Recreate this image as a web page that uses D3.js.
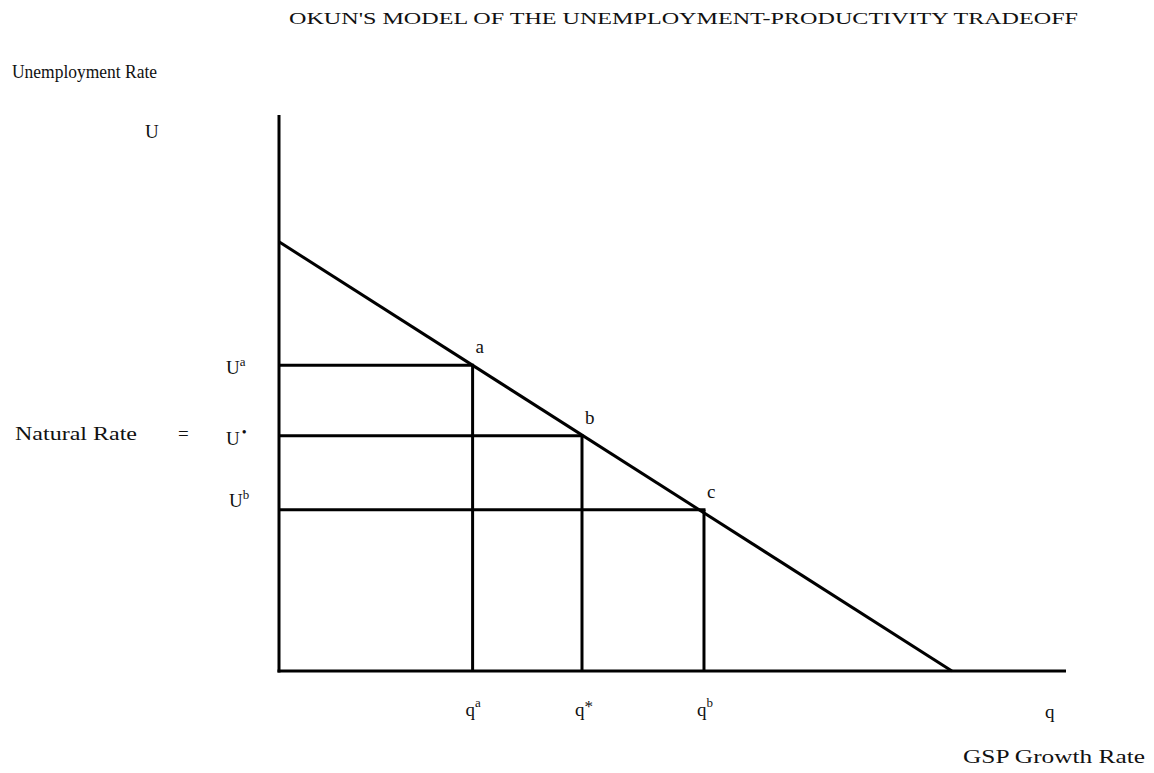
<!DOCTYPE html>
<html>
<head>
<meta charset="utf-8">
<script src="https://cdn.jsdelivr.net/npm/d3@7"></script>
<style>
  body { margin: 0; background: #fff; }
  svg text { font-family: "Liberation Serif", "DejaVu Serif", serif; fill: #111; }
</style>
</head>
<body>
<div id="chart"></div>
<script>
// diagram values (arbitrary units)
const lineStart = { q: 0, u: 77.2 };     // where the Okun line hits the U axis
const lineEnd = { q: 85.5, u: 0 };       // where it hits the q axis
const points = [
  { id: 'a', q: 24.6, u: 55.0, uLabel: 'a', qLabel: 'a' },
  { id: 'b', q: 38.5, u: 42.3, uLabel: '*', qLabel: '*' },
  { id: 'c', q: 54.0, u: 29.0, uLabel: 'b', qLabel: 'b' }
];
const qMax = 100;
const uMax = 100;

// dimensions
const W = 1154, H = 773;
const AX_LEFT = 279, AX_RIGHT = 1066, AX_TOP = 115, AX_BOTTOM = 671;
const FS = 19;

const x = d3.scaleLinear().domain([0, qMax]).range([AX_LEFT, AX_RIGHT]);
const y = d3.scaleLinear().domain([0, uMax]).range([AX_BOTTOM, AX_TOP]);

const $svg = d3.select('#chart').append('svg')
  .attr('width', W)
  .attr('height', H);

// title
$svg.append('text')
  .attr('x', 289).attr('y', 24)
  .attr('font-size', 17)
  .attr('textLength', 789).attr('lengthAdjust', 'spacingAndGlyphs')
  .text("OKUN'S MODEL OF THE UNEMPLOYMENT-PRODUCTIVITY TRADEOFF");

// axis titles
$svg.append('text')
  .attr('x', 12).attr('y', 78)
  .attr('font-size', FS)
  .attr('textLength', 145).attr('lengthAdjust', 'spacingAndGlyphs')
  .text('Unemployment Rate');

$svg.append('text')
  .attr('x', 145).attr('y', 138)
  .attr('font-size', FS)
  .text('U');

$svg.append('text')
  .attr('x', 1045).attr('y', 718)
  .attr('font-size', FS)
  .text('q');

$svg.append('text')
  .attr('x', 963).attr('y', 763)
  .attr('font-size', FS)
  .attr('textLength', 182).attr('lengthAdjust', 'spacingAndGlyphs')
  .text('GSP Growth Rate');

$svg.append('text')
  .attr('x', 15).attr('y', 440)
  .attr('font-size', FS)
  .attr('textLength', 122).attr('lengthAdjust', 'spacingAndGlyphs')
  .text('Natural Rate');

$svg.append('text')
  .attr('x', 178).attr('y', 440)
  .attr('font-size', FS)
  .text('=');

// axes
const $axes = $svg.append('g').attr('class', 'g-axis')
  .attr('stroke', '#000').attr('stroke-width', 3).attr('fill', 'none');

$axes.append('line')
  .attr('x1', x(0)).attr('x2', x(0))
  .attr('y1', y(uMax)).attr('y2', y(0) + 1.5);

$axes.append('line')
  .attr('x1', x(0) - 1.5).attr('x2', x(qMax))
  .attr('y1', y(0)).attr('y2', y(0));

// okun line
const line = d3.line().x(d => x(d.q)).y(d => y(d.u));
$svg.append('path')
  .datum([lineStart, lineEnd])
  .attr('d', line)
  .attr('stroke', '#000').attr('stroke-width', 3).attr('fill', 'none');

// guide lines from points to the axes
const $guides = $svg.append('g').attr('class', 'g-guides')
  .attr('stroke', '#000').attr('stroke-width', 3);

$guides.selectAll('line.h')
  .data(points)
  .join('line')
  .attr('class', 'h')
  .attr('x1', x(0)).attr('x2', d => x(d.q) + 1.5)
  .attr('y1', d => y(d.u)).attr('y2', d => y(d.u));

$guides.selectAll('line.v')
  .data(points)
  .join('line')
  .attr('class', 'v')
  .attr('x1', d => x(d.q)).attr('x2', d => x(d.q))
  .attr('y1', d => y(d.u)).attr('y2', y(0));

// point labels
$svg.selectAll('text.pt')
  .data(points)
  .join('text')
  .attr('class', 'pt')
  .attr('x', d => x(d.q) + 3)
  .attr('y', d => y(d.u) - 12)
  .attr('font-size', FS)
  .text(d => d.id);

// U labels on the vertical axis
const uLab = $svg.selectAll('text.ulab')
  .data(points)
  .join('text')
  .attr('class', 'ulab')
  .attr('x', d => d.id === 'c' ? 229 : 226)
  .attr('y', d => y(d.u) + (d.id === 'c' ? -3 : 9))
  .attr('font-size', FS);
uLab.append('tspan').text('U');
uLab.append('tspan')
  .attr('font-size', d => d.uLabel === '*' ? 14 : 13)
  .attr('dy', d => d.uLabel === '*' ? -8 : -8)
  .attr('dx', d => d.uLabel === '*' ? 2 : 0)
  .text(d => d.uLabel === '*' ? '•' : d.uLabel);

// q labels under the horizontal axis
const qLab = $svg.selectAll('text.qlab')
  .data(points)
  .join('text')
  .attr('class', 'qlab')
  .attr('x', d => x(d.q) - 7)
  .attr('y', 716)
  .attr('font-size', FS);
qLab.append('tspan').text('q');
qLab.append('tspan')
  .attr('font-size', d => d.qLabel === '*' ? 17 : 13)
  .attr('dy', d => d.qLabel === '*' ? -4 : -9)
  .text(d => d.qLabel);
</script>
</body>
</html>
